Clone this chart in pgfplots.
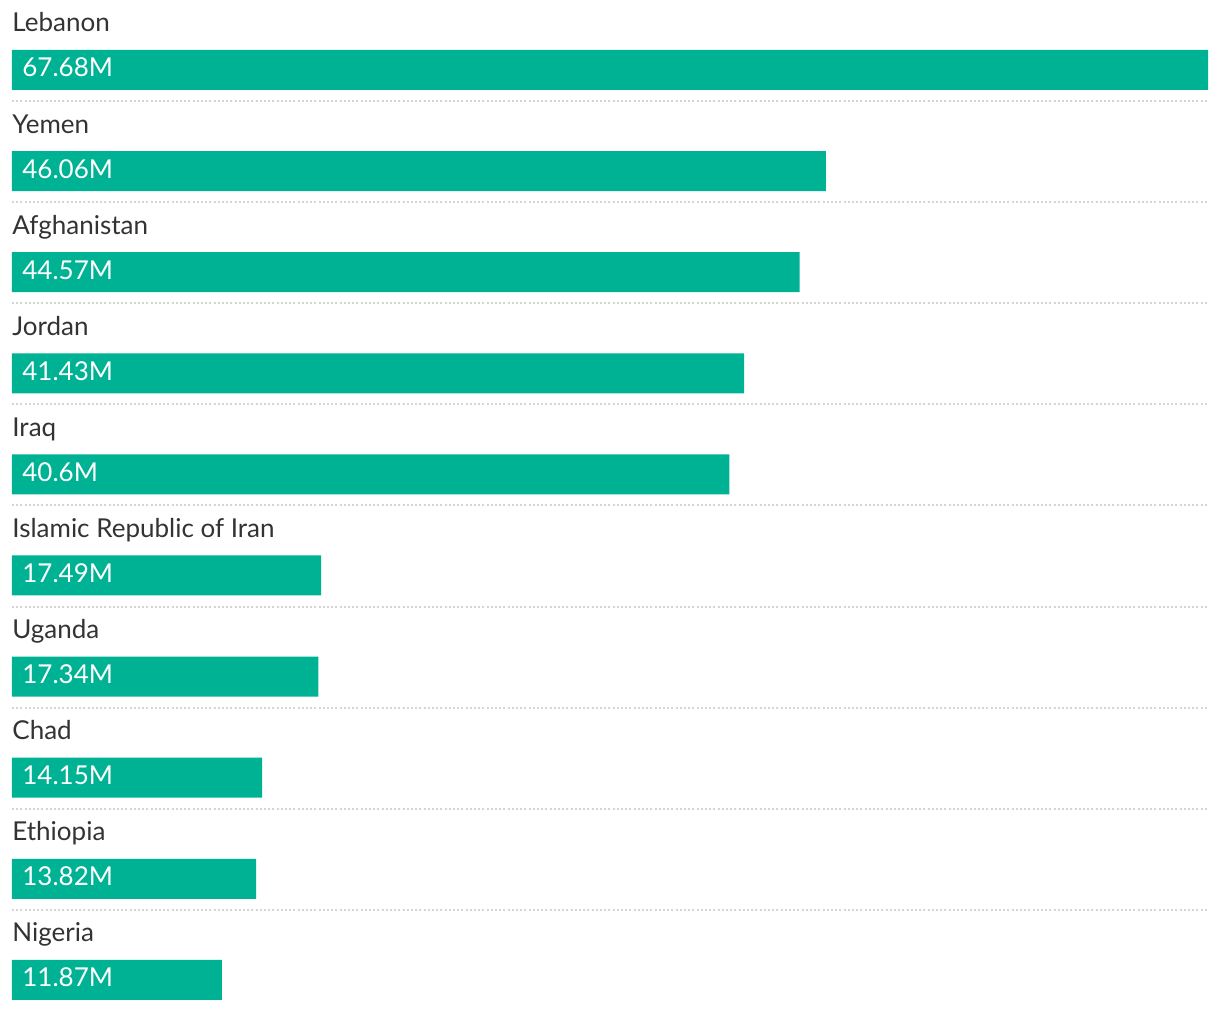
\documentclass[border=0pt]{standalone}
\usepackage{pgfplots}
\usepackage{pgfplotstable}
\pgfplotsset{compat=1.18}
\usepackage{fontspec}
\setmainfont{Lato}
\definecolor{barcol}{HTML}{00B294}
\definecolor{txtcol}{HTML}{333333}
\definecolor{sepcol}{HTML}{D4D4D4}
\pgfplotstableread[col sep=comma]{
i,val,name,lab
0,67.68,Lebanon,67.68M
1,46.06,Yemen,46.06M
2,44.57,Afghanistan,44.57M
3,41.43,Jordan,41.43M
4,40.6,Iraq,40.6M
5,17.49,Islamic Republic of Iran,17.49M
6,17.34,Uganda,17.34M
7,14.15,Chad,14.15M
8,13.82,Ethiopia,13.82M
9,11.87,Nigeria,11.87M
}\datatable
\begin{document}
\fontsize{13pt}{15pt}\selectfont
\begin{tikzpicture}
\begin{axis}[
  scale only axis,
  width=610pt, height=505pt,
  xmin=-0.679, xmax=68.36,
  ymin=-9.298, ymax=0.6924,
  hide axis,
  clip=false,
]
\path (rel axis cs:0,0) rectangle (rel axis cs:1,1);
\pgfplotsinvokeforeach{0,...,8}{
  \draw[sepcol, line width=1pt, dash pattern=on 1pt off 1.1pt]
    (axis cs:0,-#1-0.307) -- (axis cs:67.68,-#1-0.307);
}
\addplot[xbar, bar width=20pt, bar shift=0pt, fill=barcol, draw=none]
  table[x=val, y expr=-\thisrow{i}] {\datatable};
\addplot[draw=none, mark=none, nodes near coords, point meta=explicit symbolic,
  every node near coord/.style={anchor=base west, inner sep=0pt, text=white, xshift=5pt, font=\fontsize{13pt}{15pt}\selectfont}]
  table[x expr=0, y expr=-\thisrow{i}-0.069, meta=lab] {\datatable};
\addplot[draw=none, mark=none, nodes near coords, point meta=explicit symbolic,
  every node near coord/.style={anchor=base west, inner sep=0pt, text=txtcol, font=\fontsize{13pt}{15pt}\selectfont}]
  table[x expr=0, y expr=-\thisrow{i}+0.376, meta=name] {\datatable};
\end{axis}
\end{tikzpicture}
\end{document}
